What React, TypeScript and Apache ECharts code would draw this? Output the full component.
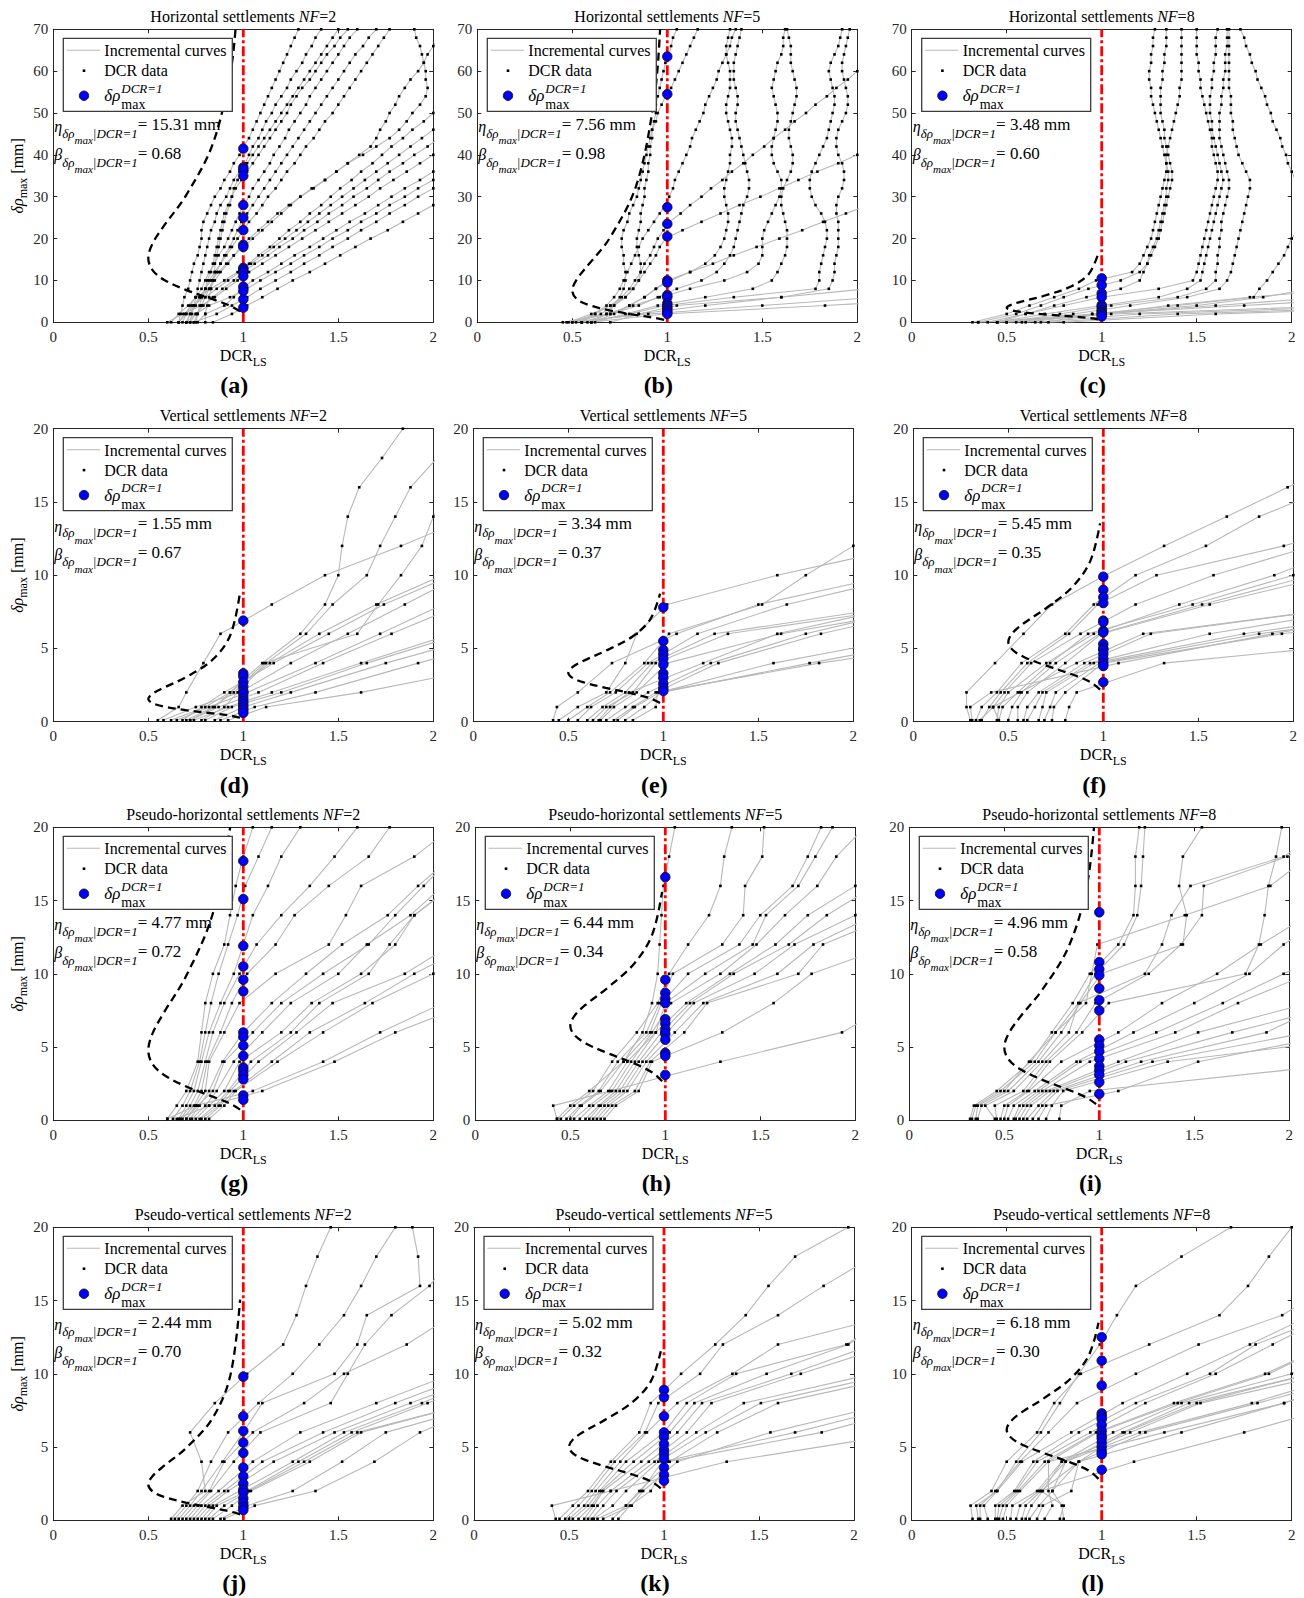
import React, { useEffect, useRef } from 'react';
import * as echarts from 'echarts';

const FONT = '"Liberation Serif", "Times New Roman", serif';

// y levels of the DCR data (mm)
const L70 = [0, 2, 4, 6, 8, 10, 12, 14, 16, 18, 20, 22, 24, 26, 28, 30, 32, 34, 36, 38, 40, 42, 44, 46, 48, 50, 52, 54, 56, 58, 60, 62, 64, 66, 68, 70];
const L20 = [0.1, 1, 2, 4, 6, 8, 10, 12, 14, 16, 18, 20, 22];

// ---------- (a) Horizontal NF=2 ----------
const A_CURVES = [
  [0.66,0.67,0.68,0.69,0.71,0.72,0.73,0.74,0.76,0.77,0.78,0.78,0.79,0.81,0.83,0.85,0.88,0.9,0.93,0.95,0.98,1.0,1.03,1.05,1.07,1.09,1.11,1.13,1.15,1.17,1.19,1.21,1.23,1.25,1.27,1.29],
  [0.72,0.73,0.74,0.75,0.76,0.77,0.78,0.79,0.8,0.81,0.82,0.83,0.85,0.86,0.88,0.91,0.93,0.95,0.98,1.01,1.03,1.05,1.08,1.1,1.12,1.15,1.17,1.2,1.23,1.25,1.28,1.31,1.33,1.36,1.38,1.41],
  [0.75,0.76,0.77,0.78,0.8,0.81,0.83,0.84,0.85,0.86,0.87,0.88,0.89,0.9,0.92,0.94,0.95,0.97,0.99,1.02,1.05,1.08,1.11,1.14,1.17,1.2,1.23,1.26,1.29,1.32,1.35,1.38,1.41,1.44,1.47,1.5],
  [0.8,0.8,0.81,0.82,0.83,0.84,0.85,0.85,0.86,0.87,0.88,0.89,0.9,0.91,0.93,0.94,0.96,0.99,1.02,1.05,1.08,1.11,1.14,1.17,1.2,1.23,1.25,1.28,1.31,1.35,1.38,1.41,1.44,1.48,1.51,1.55],
  [0.68,0.7,0.72,0.75,0.78,0.8,0.82,0.85,0.87,0.9,0.92,0.94,0.96,0.98,1.0,1.03,1.05,1.08,1.11,1.14,1.16,1.19,1.22,1.24,1.27,1.3,1.33,1.35,1.38,1.41,1.44,1.47,1.5,1.53,1.56,1.6],
  [0.74,0.76,0.78,0.8,0.82,0.84,0.86,0.88,0.9,0.93,0.95,0.97,0.99,1.02,1.05,1.08,1.11,1.14,1.17,1.2,1.23,1.26,1.29,1.32,1.35,1.38,1.41,1.44,1.47,1.5,1.53,1.56,1.59,1.63,1.66,1.7],
  [0.7,0.72,0.75,0.77,0.8,0.82,0.85,0.88,0.91,0.94,0.97,1.0,1.03,1.07,1.1,1.13,1.17,1.2,1.23,1.27,1.3,1.33,1.37,1.4,1.43,1.47,1.5,1.53,1.56,1.59,1.62,1.65,1.68,1.71,1.74,1.77],
  [0.66,0.7,0.74,0.78,0.82,0.85,0.88,0.92,0.95,0.99,1.03,1.08,1.13,1.18,1.24,1.3,1.36,1.43,1.49,1.55,1.63,1.7,1.77,1.82,1.86,1.89,1.93,1.96,1.97,1.96,1.96,1.95,1.94,1.93,1.91,1.9],
  [0.7,0.72,0.74,0.77,0.8,0.83,0.87,0.91,0.95,1.0,1.05,1.1,1.15,1.2,1.25,1.3,1.37,1.43,1.49,1.55,1.61,1.67,1.7,1.72,1.75,1.77,1.8,1.82,1.85,1.88,1.92,1.95,1.97,2.0,2.03],
  [0.62,0.66,0.71,0.75,0.83,0.9,0.97,1.03,1.08,1.14,1.19,1.24,1.3,1.35,1.41,1.46,1.51,1.57,1.62,1.68,1.73,1.78,1.84,1.89,1.95,2.0],
  [0.66,0.69,0.73,0.8,0.86,0.92,0.98,1.04,1.1,1.16,1.22,1.28,1.34,1.4,1.46,1.52,1.58,1.64,1.7,1.76,1.82,1.88,1.94,2.0],
  [0.72,0.75,0.79,0.84,0.89,0.95,1.0,1.06,1.13,1.19,1.26,1.32,1.39,1.45,1.52,1.58,1.65,1.71,1.77,1.84,1.9,1.97,2.03],
  [0.6,0.68,0.78,0.85,0.91,0.97,1.03,1.1,1.17,1.24,1.31,1.38,1.45,1.52,1.59,1.66,1.72,1.79,1.86,1.93,2.0],
  [0.76,0.8,0.9,0.95,0.99,1.05,1.13,1.2,1.27,1.35,1.42,1.49,1.56,1.64,1.71,1.78,1.85,1.93,2.0],
  [0.7,0.75,0.82,0.93,1.02,1.09,1.17,1.25,1.32,1.4,1.47,1.55,1.62,1.7,1.77,1.85,1.92,2.0],
  [0.74,0.86,0.94,1.02,1.09,1.17,1.25,1.32,1.4,1.47,1.55,1.62,1.7,1.77,1.85,1.92,2.0],
  [0.84,0.94,1.02,1.1,1.18,1.26,1.35,1.43,1.51,1.59,1.67,1.76,1.84,1.92,2.0],
];
const A_BLUE = [41.5, 37, 36.5, 35, 28, 25, 22, 18.5, 18, 13, 12.5, 12, 11, 8.5, 7.5, 5.5, 3.5];
const A_PDF = [[0.983,2.61],[0.932,3.93],[0.838,5.52],[0.697,7.76],[0.582,10.18],[0.522,12.48],[0.5,15.31],[0.522,18.77],[0.582,23.02],[0.697,30.22],[0.838,42.46],[0.932,59.65],[0.959,70]];

// ---------- (b) Horizontal NF=5 ----------
const B_CURVES = [
  [0.6,0.68,0.72,0.75,0.77,0.78,0.78,0.77,0.77,0.76,0.76,0.77,0.79,0.8,0.82,0.84,0.85,0.86,0.87,0.88,0.89,0.9,0.91,0.92,0.94,0.95,0.97,0.99,1.02,1.04,1.06,1.08,1.1,1.12,1.14,1.16],
  [0.5,0.62,0.7,0.78,0.82,0.85,0.86,0.86,0.85,0.84,0.84,0.85,0.86,0.86,0.87,0.88,0.88,0.89,0.9,0.9,0.91,0.91,0.92,0.92,0.93,0.94,0.94,0.95,0.96,0.97,0.98,0.99,1.01,1.02,1.03,1.05],
  [0.55,0.62,0.68,0.72,0.75,0.77,0.79,0.81,0.83,0.85,0.87,0.9,0.93,0.96,0.99,1.01,1.03,1.04,1.06,1.08,1.1,1.12,1.13,1.15,1.17,1.19,1.2,1.22,1.24,1.26,1.27,1.29,1.31,1.33,1.34,1.36],
  [0.48,0.6,0.7,0.76,0.8,0.83,0.86,0.88,0.91,0.93,0.95,0.98,1.01,1.07,1.12,1.18,1.23,1.29,1.34,1.4,1.45,1.51,1.56,1.62,1.67,1.73,1.78,1.84,1.89,1.95,2.0],
  [0.52,0.65,0.72,0.78,0.82,0.85,0.88,0.91,0.94,0.96,0.99,1.08,1.18,1.28,1.38,1.49,1.59,1.69,1.79,1.9,2.0],
  [0.45,0.7,0.8,0.88,0.94,1.0,1.12,1.24,1.35,1.47,1.59,1.71,1.82,1.94,2.06],
  [0.6,0.72,0.8,0.88,0.94,1.02,1.12,1.2,1.25,1.28,1.3,1.31,1.32,1.32,1.31,1.3,1.3,1.31,1.32,1.33,1.33,1.34,1.34,1.33,1.32,1.31,1.31,1.32,1.33,1.33,1.33,1.32,1.31,1.31,1.32,1.33],
  [0.55,0.7,0.85,0.95,1.05,1.18,1.26,1.3,1.33,1.35,1.36,1.37,1.38,1.39,1.4,1.42,1.43,1.43,1.42,1.41,1.4,1.39,1.38,1.37,1.36,1.36,1.37,1.37,1.36,1.35,1.35,1.35,1.36,1.37,1.38,1.39],
  [0.5,0.68,0.82,0.96,1.12,1.3,1.42,1.48,1.5,1.5,1.5,1.51,1.53,1.55,1.57,1.59,1.6,1.6,1.58,1.56,1.55,1.55,1.56,1.57,1.58,1.58,1.57,1.56,1.55,1.56,1.57,1.58,1.6,1.61,1.61,1.62],
  [0.62,0.78,0.95,1.2,1.45,1.55,1.58,1.6,1.62,1.63,1.63,1.63,1.62,1.61,1.6,1.6,1.61,1.63,1.65,1.66,1.66,1.65,1.64,1.64,1.65,1.66,1.67,1.68,1.68,1.67,1.66,1.65,1.65,1.65,1.64,1.63],
  [0.58,0.8,0.99,1.35,1.78,1.8,1.8,1.81,1.82,1.83,1.84,1.84,1.83,1.81,1.78,1.76,1.75,1.75,1.76,1.78,1.8,1.82,1.84,1.85,1.86,1.87,1.88,1.88,1.87,1.86,1.85,1.86,1.88,1.9,1.91,1.92],
  [0.7,0.85,1.05,1.6,1.85,1.87,1.88,1.88,1.89,1.9,1.9,1.9,1.9,1.89,1.89,1.9,1.92,1.93,1.93,1.92,1.9,1.89,1.89,1.9,1.92,1.94,1.95,1.95,1.94,1.93,1.92,1.92,1.93,1.94,1.95,1.96],
  [0.55,0.85,1.2,1.6,2.05],
  [0.47,0.9,1.5,2.1],
  [0.6,0.98,1.83,2.6],
];
const B_BLUE = [63.5, 54.5, 27.5, 23.5, 20.5, 10, 9.5, 6.5, 6, 4.5, 4, 3.5, 3, 2.5, 2];
const B_PDF = [[0.983,0.59],[0.932,1.07],[0.838,1.74],[0.697,2.84],[0.582,4.2],[0.522,5.63],[0.5,7.56],[0.522,10.14],[0.582,13.61],[0.697,20.14],[0.838,32.88],[0.932,53.67],[0.962,70]];

// ---------- (c) Horizontal NF=8 ----------
const C_CURVES = [
  [0.32,0.5,0.62,0.75,0.88,0.97,1.16,1.2,1.22,1.24,1.26,1.27,1.28,1.29,1.3,1.31,1.32,1.33,1.34,1.34,1.33,1.32,1.31,1.3,1.29,1.28,1.27,1.26,1.26,1.25,1.25,1.26,1.26,1.27,1.27,1.28],
  [0.35,0.55,0.68,0.8,0.93,1.1,1.2,1.24,1.26,1.28,1.3,1.31,1.32,1.33,1.34,1.35,1.36,1.37,1.37,1.36,1.35,1.34,1.33,1.33,1.32,1.31,1.31,1.31,1.31,1.32,1.32,1.33,1.33,1.34,1.34,1.34],
  [0.45,0.6,0.75,0.92,1.1,1.2,1.22,1.24,1.25,1.27,1.29,1.3,1.31,1.32,1.33,1.34,1.34,1.35,1.35,1.34,1.34,1.35,1.36,1.37,1.38,1.39,1.4,1.41,1.41,1.42,1.42,1.42,1.42,1.42,1.42,1.42],
  [0.4,0.6,0.8,1.0,1.3,1.48,1.5,1.51,1.52,1.53,1.54,1.55,1.56,1.57,1.58,1.59,1.6,1.61,1.61,1.6,1.59,1.58,1.58,1.57,1.56,1.55,1.54,1.53,1.52,1.52,1.51,1.51,1.5,1.5,1.5,1.5],
  [0.45,0.7,1.0,1.3,1.45,1.52,1.53,1.54,1.55,1.56,1.57,1.58,1.59,1.6,1.61,1.62,1.63,1.64,1.63,1.62,1.61,1.6,1.59,1.58,1.58,1.57,1.57,1.57,1.58,1.58,1.59,1.59,1.6,1.6,1.6,1.61],
  [0.5,0.78,1.05,1.4,1.55,1.6,1.6,1.61,1.61,1.62,1.62,1.63,1.63,1.64,1.65,1.66,1.67,1.67,1.66,1.65,1.64,1.63,1.62,1.62,1.62,1.62,1.63,1.63,1.64,1.64,1.65,1.65,1.65,1.66,1.66,1.66],
  [0.55,0.85,1.15,1.45,1.62,1.66,1.68,1.69,1.7,1.71,1.72,1.73,1.74,1.75,1.76,1.77,1.78,1.78,1.76,1.74,1.72,1.71,1.7,1.69,1.69,1.68,1.68,1.68,1.67,1.67,1.67,1.67,1.67,1.67,1.67,1.67],
  [0.6,0.95,1.4,1.8,1.83,1.87,1.9,1.93,1.96,1.98,2.0,2.03,2.06,2.08,2.08,2.06,2.04,2.02,2.0,1.98,1.97,1.95,1.94,1.92,1.9,1.89,1.87,1.86,1.84,1.82,1.81,1.79,1.78,1.76,1.75,1.73],
  [0.35,1.0,1.6,2.2],
  [0.45,0.95,1.75,2.5],
  [0.5,1.05,2.3],
  [0.65,1.2,2.5],
  [0.72,1.4,2.8],
  [0.8,1.6,3.0],
  [0.58,0.99,1.5,1.85,2.1],
  [0.68,1.0,1.35,1.78,2.3],
];
const C_BLUE = [10.5, 8.9, 6.9, 6.0, 4.1, 3.6, 2.9, 2.5, 2.1, 1.8, 1.4];
const C_PDF = [[0.983,0.73],[0.932,1.05],[0.838,1.41],[0.697,1.91],[0.582,2.43],[0.522,2.91],[0.5,3.48],[0.522,4.17],[0.582,4.99],[0.697,6.34],[0.838,8.56],[0.932,11.55],[0.983,16.56]];

// ---------- (d) Vertical NF=2 ----------
const D_CURVES = [
  [0.55,0.66,0.7,0.79,0.88,1.15,1.43,1.83,2.2],
  [0.72,0.85,0.93,1.1,1.3,1.43,1.5,1.52,1.55,1.61,1.73,1.84,1.95],
  [0.7,0.84,0.95,1.11,1.6,1.71,1.83,1.94,2.0,2.1],
  [0.78,0.9,0.97,1.12,1.33,1.47,1.65,1.72,1.8,1.88,2.02],
  [0.62,0.8,0.93,1.14,1.4,1.7,2.05],
  [0.68,0.78,0.9,1.16,1.45,1.74,2.1],
  [0.58,0.75,0.98,1.25,1.55,1.85,2.15],
  [0.65,0.82,1.02,1.38,1.72,2.05],
  [0.72,0.87,1.08,1.42,1.78,2.15],
  [0.74,0.92,1.15,1.62,2.1],
  [0.8,0.94,1.2,1.65,2.15],
  [0.85,1.0,1.25,1.75,2.3],
  [0.88,1.06,1.38,1.92,2.5],
  [0.92,1.12,1.62,2.4],
];
const D_BLUE = [6.9, 3.3, 3.1, 2.7, 2.4, 2.1, 1.9, 1.6, 1.4, 1.2, 1.0, 0.8, 0.6];
const D_PDF = [[0.983,0.27],[0.932,0.41],[0.838,0.57],[0.697,0.79],[0.582,1.04],[0.522,1.27],[0.5,1.55],[0.522,1.9],[0.582,2.32],[0.697,3.03],[0.838,4.23],[0.932,5.92],[0.983,8.85]];

// ---------- (e) Vertical NF=5 ----------
const E_CURVES = [
  [0.45,0.55,0.7,0.8,0.86,1.02,1.6,2.3],
  [0.5,0.6,0.72,0.9,1.03,1.52,1.75,2.0,2.25],
  [0.55,0.62,0.75,0.92,1.18,1.65,2.3],
  [0.6,0.68,0.8,0.94,1.27,2.3],
  [0.63,0.7,0.84,0.96,1.34,2.4],
  [0.67,0.74,0.86,1.02,1.62,2.5],
  [0.66,0.72,0.82,1.21,1.6,2.3],
  [0.7,0.8,0.92,1.25,1.75,2.4],
  [0.74,0.84,0.96,1.29,1.83,2.5],
  [0.76,0.85,0.98,1.58,2.4],
  [0.8,0.9,0.99,1.77,2.6],
  [0.84,0.96,0.97,1.82,2.9],
  [0.42,0.44,0.55,0.73,1.07,1.5,2.2],
];
const E_BLUE = [7.8, 5.5, 4.9, 4.6, 4.3, 3.9, 3.3, 3.0, 2.6, 2.3, 2.1];
const E_PDF = [[0.983,1.28],[0.932,1.59],[0.838,1.92],[0.697,2.31],[0.582,2.68],[0.522,2.99],[0.5,3.34],[0.522,3.73],[0.582,4.17],[0.697,4.84],[0.838,5.82],[0.932,7.0],[0.983,8.74]];

// ---------- (f) Vertical NF=8 ----------
const F_CURVES = [
  [0.3,0.28,0.28,0.43,0.58,0.73,1.01,1.32,1.65,1.97,2.3],
  [0.33,0.36,0.44,0.57,0.8,0.95,1.17,1.54,1.82,2.2],
  [0.36,0.4,0.46,0.6,0.82,0.97,1.28,1.95,2.5],
  [0.35,0.42,0.48,0.62,0.88,1.17,1.58,2.1],
  [0.44,0.45,0.5,0.7,0.95,1.4,1.9,2.3],
  [0.45,0.47,0.55,0.72,0.92,1.47,2.0],
  [0.5,0.52,0.57,0.75,0.98,1.52,2.1],
  [0.55,0.55,0.6,0.8,0.99,1.56,2.2],
  [0.45,0.42,0.56,0.86,1.21,2.4],
  [0.58,0.6,0.66,0.9,1.25,2.4],
  [0.6,0.64,0.68,0.93,1.56,2.5],
  [0.66,0.68,0.7,0.95,1.74,2.8],
  [0.69,0.72,0.75,0.98,1.82,3.0],
  [0.73,0.74,0.8,1.0,1.94,3.2],
  [0.8,0.82,0.86,1.32,2.9],
  [0.31,0.3,0.41,1.08,1.89,2.8],
];
const F_BLUE = [9.9, 9.0, 8.5, 8.1, 6.9, 6.8, 6.2, 6.1, 5.3, 5.0, 4.9, 4.6, 4.3, 4.0, 3.8, 2.7];
const F_PDF = [[0.983,2.19],[0.932,2.71],[0.838,3.22],[0.697,3.84],[0.582,4.42],[0.522,4.91],[0.5,5.45],[0.522,6.05],[0.582,6.72],[0.697,7.73],[0.838,9.21],[0.932,10.98],[0.983,13.54]];

// ---------- (g) Pseudo-horizontal NF=2 ----------
const G_CURVES = [
  [0.6,0.65,0.7,0.76,0.78,0.8,0.84,0.9,0.93,0.96,1.0,1.05,1.1],
  [0.63,0.68,0.72,0.77,0.8,0.83,0.87,0.92,0.97,1.01,1.08,1.15,1.2],
  [0.66,0.7,0.74,0.78,0.82,0.88,0.95,1.0,1.05,1.13,1.2,1.3,1.4],
  [0.67,0.72,0.76,0.8,0.84,0.9,0.98,1.07,1.2,1.35,1.48,1.6,1.7],
  [0.68,0.74,0.78,0.81,0.88,0.94,1.02,1.17,1.27,1.45,1.66,1.77,1.9],
  [0.7,0.75,0.8,0.82,0.9,0.98,1.17,1.45,1.54,1.62,1.9,2.1],
  [0.72,0.77,0.82,0.89,1.0,1.15,1.33,1.52,1.76,1.92,2.1],
  [0.7,0.76,0.84,0.9,1.05,1.2,1.42,1.66,1.8,1.95,2.1],
  [0.73,0.8,0.86,0.95,1.1,1.25,1.5,1.65,1.88,2.05],
  [0.75,0.82,0.9,0.98,1.2,1.36,1.62,1.8,1.9,2.1],
  [0.77,0.85,0.92,1.04,1.25,1.4,1.66,1.77,1.9,2.1],
  [0.78,0.87,0.93,1.08,1.28,1.47,1.85,2.1],
  [0.8,0.88,0.95,1.15,1.35,1.64,1.9,2.2],
  [0.82,0.9,0.96,1.18,1.42,1.68,2.0,2.3],
  [0.6,0.75,1.05,1.42,1.72,2.05],
  [0.65,0.82,1.1,1.48,1.8,2.2],
];
const G_BLUE = [17.7, 15.1, 11.9, 10.5, 9.6, 8.8, 6.0, 5.7, 5.1, 4.4, 3.6, 3.4, 3.1, 2.8, 1.7, 1.4];
const G_PDF = [[0.983,0.73],[0.932,1.13],[0.838,1.62],[0.697,2.32],[0.582,3.1],[0.522,3.84],[0.5,4.77],[0.522,5.92],[0.582,7.35],[0.697,9.8],[0.838,14.05],[0.931,20]];

// ---------- (h) Pseudo-horizontal NF=5 ----------
const H_CURVES = [
  [0.43,0.5,0.6,0.78,0.88,0.93,0.96,0.97,0.98,0.99,1.02,1.05,1.08],
  [0.45,0.52,0.62,0.72,0.85,0.96,1.02,1.12,1.23,1.29,1.31,1.35,1.4],
  [0.48,0.55,0.65,0.75,0.9,0.97,1.04,1.3,1.41,1.42,1.51,1.52,1.6],
  [0.5,0.56,0.66,0.78,0.92,0.98,1.12,1.39,1.5,1.67,1.75,1.82,1.9],
  [0.52,0.6,0.7,0.8,0.95,1.0,1.21,1.46,1.53,1.7,1.79,1.88,2.0],
  [0.55,0.62,0.72,0.82,0.93,1.03,1.29,1.48,1.63,1.8,1.9,2.05],
  [0.58,0.65,0.74,0.84,0.95,1.11,1.34,1.58,1.75,2.0,2.2],
  [0.6,0.66,0.76,0.86,0.98,1.13,1.36,1.65,1.85,2.1],
  [0.62,0.68,0.78,0.88,1.01,1.15,1.47,1.68,2.0,2.2],
  [0.64,0.7,0.8,0.9,1.05,1.2,1.59,1.78,2.1],
  [0.66,0.72,0.84,0.92,1.1,1.22,1.7,1.83,2.2],
  [0.68,0.74,0.86,0.93,1.3,1.57,1.77,2.2],
  [0.43,0.41,0.71,1.29,1.93,2.2],
];
const H_BLUE = [16.6, 9.6, 8.7, 8.3, 8.0, 6.9, 6.6, 6.2, 5.9, 5.5, 4.6, 4.4, 3.1];
const H_PDF = [[0.983,2.66],[0.932,3.26],[0.838,3.87],[0.697,4.58],[0.582,5.25],[0.522,5.82],[0.5,6.44],[0.522,7.13],[0.582,7.9],[0.697,9.05],[0.838,10.72],[0.932,12.71],[0.983,15.59]];

// ---------- (i) Pseudo-horizontal NF=8 ----------
const I_CURVES = [
  [0.35,0.36,0.5,0.63,0.77,0.93,0.96,0.99,1.45,1.9,2.1],
  [0.32,0.34,0.46,0.64,0.75,0.86,0.95,1.1,1.18,1.19,1.19,1.21,1.23],
  [0.33,0.35,0.48,0.66,0.77,0.89,0.98,1.13,1.2,1.22,1.23,1.24,1.26],
  [0.36,0.38,0.52,0.68,0.8,0.9,1.01,1.44,1.46,1.42,1.44,1.54,1.6],
  [0.45,0.4,0.55,0.7,0.84,0.89,1.24,1.33,1.38,1.48,1.97,2.2],
  [0.46,0.45,0.6,0.72,0.88,0.98,1.26,1.43,1.54,1.55,1.99,2.2],
  [0.48,0.5,0.62,0.74,0.91,1.05,1.77,1.84,1.87,1.89,1.93,1.96,2.0],
  [0.5,0.52,0.63,0.8,1.1,1.33,1.62,1.85,2.1],
  [0.52,0.55,0.66,0.88,1.18,1.5,1.79,1.97,2.2],
  [0.55,0.58,0.68,0.9,1.3,1.65,1.97,2.3],
  [0.56,0.6,0.7,0.95,1.4,1.73,2.1],
  [0.58,0.62,0.72,1.1,1.52,2.1],
  [0.6,0.64,0.74,1.14,1.7,2.3],
  [0.62,0.68,0.76,1.22,1.88,2.2],
  [0.65,0.7,0.78,1.28,2.1],
  [0.68,0.72,1.1,1.52,2.3],
  [0.72,0.75,0.81,1.36,2.6],
  [0.79,0.8,0.95,2.4],
];
const I_BLUE = [14.2, 10.8, 10.3, 9.9, 9.0, 8.2, 7.5, 5.5, 5.1, 4.7, 4.2, 3.7, 3.4, 3.1, 2.6, 1.8];
const I_PDF = [[0.983,1.1],[0.932,1.56],[0.838,2.08],[0.697,2.78],[0.582,3.5],[0.522,4.17],[0.5,4.96],[0.522,5.9],[0.582,7.03],[0.697,8.86],[0.838,11.84],[0.932,15.82],[0.972,20]];

// ---------- (j) Pseudo-vertical NF=2 ----------
const J_CURVES = [
  [0.62,0.68,0.8,0.78,0.72,0.85,1.02,1.21,1.28,1.33,1.39,1.46,1.52],
  [0.64,0.7,0.76,0.83,0.92,1.08,1.26,1.4,1.53,1.62,1.7,1.8,1.9],
  [0.66,0.72,0.78,0.89,1.0,1.1,1.48,1.6,1.65,1.93,1.92,1.89,1.86],
  [0.68,0.74,0.82,0.9,1.05,1.32,1.53,1.86,2.1],
  [0.7,0.76,0.83,0.95,1.09,1.46,1.55,1.64,1.78,1.98,2.1],
  [0.72,0.78,0.87,1.05,1.3,1.7,2.1],
  [0.74,0.8,0.9,1.1,1.42,1.8,2.2],
  [0.76,0.82,0.92,1.16,1.48,1.88,2.3],
  [0.78,0.84,0.98,1.26,1.53,1.94,2.3],
  [0.8,0.86,1.02,1.29,1.57,1.97,2.4],
  [0.82,0.9,1.03,1.32,1.6,2.2],
  [0.84,0.94,1.04,1.35,1.62,2.2],
  [0.88,1.02,1.26,1.52,1.75,2.3],
  [0.9,1.06,1.38,1.69,1.93,2.3],
];
const J_BLUE = [9.8, 7.1, 6.1, 5.3, 4.6, 3.6, 3.0, 2.5, 2.1, 1.9, 1.5, 1.2, 0.9, 0.7];
const J_PDF = [[0.983,0.4],[0.932,0.6],[0.838,0.85],[0.697,1.21],[0.582,1.6],[0.522,1.98],[0.5,2.44],[0.522,3.01],[0.582,3.71],[0.697,4.91],[0.838,6.97],[0.932,9.9],[0.983,15.06]];

// ---------- (k) Pseudo-vertical NF=5 ----------
const K_CURVES = [
  [0.45,0.52,0.6,0.72,0.87,0.93,1.09,1.27,1.43,1.55,1.69,1.97,2.2],
  [0.48,0.55,0.62,0.74,0.9,0.97,1.19,1.31,1.6,1.84,2.1],
  [0.5,0.58,0.64,0.77,0.91,1.07,1.36,1.6,2.2],
  [0.52,0.6,0.66,0.8,1.0,1.12,1.38,1.96,2.2],
  [0.55,0.62,0.67,0.84,1.03,1.16,1.54,1.97,2.2],
  [0.58,0.63,0.68,0.88,1.07,1.2,1.67,2.1],
  [0.6,0.65,0.72,0.92,1.12,1.25,1.72,2.2],
  [0.62,0.68,0.75,0.95,1.17,1.42,2.1],
  [0.63,0.73,0.8,0.97,1.22,1.51,2.2],
  [0.65,0.8,0.87,1.03,1.28,1.6,2.3],
  [0.68,0.83,0.89,1.07,1.56,2.2],
  [0.43,0.41,0.72,1.33,2.3],
  [0.73,0.8,0.88,0.99,1.69,2.3],
  [0.76,0.82,0.93,1.02,1.83,2.4],
];
const K_BLUE = [8.9, 8.4, 7.1, 6.0, 5.7, 5.2, 4.8, 4.5, 4.2, 3.6, 3.1, 2.7];
const K_PDF = [[0.983,2.18],[0.932,2.65],[0.838,3.11],[0.697,3.65],[0.582,4.14],[0.522,4.56],[0.5,5.02],[0.522,5.53],[0.582,6.08],[0.697,6.91],[0.838,8.11],[0.932,9.52],[0.983,11.54]];

// ---------- (l) Pseudo-vertical NF=8 ----------
const L_CURVES = [
  [0.35,0.34,0.45,0.55,0.68,0.78,0.88,0.99,1.08,1.18,1.42,1.68,1.9],
  [0.32,0.31,0.42,0.5,0.66,0.75,0.89,1.25,1.62,1.77,1.88,2.0,2.1],
  [0.36,0.36,0.44,0.57,0.72,0.87,1.18,1.51,1.95,2.2],
  [0.4,0.38,0.45,0.58,0.84,1.11,1.45,1.78,2.1],
  [0.44,0.44,0.54,0.64,0.88,1.18,1.57,1.81,2.2],
  [0.45,0.46,0.55,0.66,0.94,1.23,1.6,1.9,2.2],
  [0.46,0.48,0.56,0.7,0.97,1.38,1.86,2.2],
  [0.48,0.5,0.57,0.72,0.98,1.4,1.88,2.2],
  [0.52,0.53,0.66,0.79,1.06,1.42,2.0,2.3],
  [0.55,0.57,0.67,0.81,1.11,1.46,2.1],
  [0.58,0.6,0.68,0.88,1.12,1.5,2.1],
  [0.6,0.63,0.69,0.79,1.15,1.52,2.2],
  [0.62,0.67,0.74,0.81,1.2,1.79,2.3],
  [0.66,0.69,0.84,0.88,1.23,1.82,2.4],
  [0.7,0.74,0.72,0.72,1.33,1.96,2.4],
  [0.78,0.8,0.68,1.17,1.75,2.3],
  [0.8,0.79,0.74,0.88,1.42,1.96,2.4],
];
const L_BLUE = [12.5, 10.9, 9.2, 7.3, 7.1, 6.9, 6.5, 6.1, 5.8, 5.6, 5.3, 5.0, 4.7, 4.5, 3.45];
const L_PDF = [[0.983,2.83],[0.932,3.39],[0.838,3.94],[0.697,4.58],[0.582,5.16],[0.522,5.65],[0.5,6.18],[0.522,6.76],[0.582,7.4],[0.697,8.34],[0.838,9.69],[0.932,11.26],[0.983,13.48]];

const PANELS = [
  { id: 'a', kind: 'Horizontal settlements', nf: '2', ymax: 70, step: 10, levels: L70, curves: A_CURVES, blue: A_BLUE, pdf: A_PDF, eta: '15.31', beta: '0.68' },
  { id: 'b', kind: 'Horizontal settlements', nf: '5', ymax: 70, step: 10, levels: L70, curves: B_CURVES, blue: B_BLUE, pdf: B_PDF, eta: '7.56', beta: '0.98' },
  { id: 'c', kind: 'Horizontal settlements', nf: '8', ymax: 70, step: 10, levels: L70, curves: C_CURVES, blue: C_BLUE, pdf: C_PDF, eta: '3.48', beta: '0.60' },
  { id: 'd', kind: 'Vertical settlements', nf: '2', ymax: 20, step: 5, levels: L20, curves: D_CURVES, blue: D_BLUE, pdf: D_PDF, eta: '1.55', beta: '0.67' },
  { id: 'e', kind: 'Vertical settlements', nf: '5', ymax: 20, step: 5, levels: L20, curves: E_CURVES, blue: E_BLUE, pdf: E_PDF, eta: '3.34', beta: '0.37' },
  { id: 'f', kind: 'Vertical settlements', nf: '8', ymax: 20, step: 5, levels: L20, curves: F_CURVES, blue: F_BLUE, pdf: F_PDF, eta: '5.45', beta: '0.35' },
  { id: 'g', kind: 'Pseudo-horizontal settlements', nf: '2', ymax: 20, step: 5, levels: L20, curves: G_CURVES, blue: G_BLUE, pdf: G_PDF, eta: '4.77', beta: '0.72' },
  { id: 'h', kind: 'Pseudo-horizontal settlements', nf: '5', ymax: 20, step: 5, levels: L20, curves: H_CURVES, blue: H_BLUE, pdf: H_PDF, eta: '6.44', beta: '0.34' },
  { id: 'i', kind: 'Pseudo-horizontal settlements', nf: '8', ymax: 20, step: 5, levels: L20, curves: I_CURVES, blue: I_BLUE, pdf: I_PDF, eta: '4.96', beta: '0.58' },
  { id: 'j', kind: 'Pseudo-vertical settlements', nf: '2', ymax: 20, step: 5, levels: L20, curves: J_CURVES, blue: J_BLUE, pdf: J_PDF, eta: '2.44', beta: '0.70' },
  { id: 'k', kind: 'Pseudo-vertical settlements', nf: '5', ymax: 20, step: 5, levels: L20, curves: K_CURVES, blue: K_BLUE, pdf: K_PDF, eta: '5.02', beta: '0.32' },
  { id: 'l', kind: 'Pseudo-vertical settlements', nf: '8', ymax: 20, step: 5, levels: L20, curves: L_CURVES, blue: L_BLUE, pdf: L_PDF, eta: '6.18', beta: '0.30' },
];

// layout (px)
const ROW_TOP = [29.3, 428.7, 827.3, 1227.3];
const COL_LEFT = [[53.3, 477.3, 911.7], [53.3, 473.3, 913.3], [53.3, 475.3, 909.3], [53.3, 474, 911.7]];
const PW = 380;
const PH = 293;
const AX = '#262626';

function txt(x: number, y: number, text: string, rich: any, align = 'left', extra: any = {}) {
  return {
    type: 'text', x, y, z: 100, silent: true, ...extra,
    style: { text, rich, align, textAlign: align, verticalAlign: 'middle', textVerticalAlign: 'middle', fill: '#000', fontFamily: FONT, fontSize: 16 },
  };
}
function tok(fontSize: number, italic = false, padding: number[] | null = null, bold = false) {
  const o: any = { fontFamily: FONT, fontSize, fill: '#000', fontStyle: italic ? 'italic' : 'normal', fontWeight: bold ? 'bold' : 'normal' };
  if (padding) o.padding = padding;
  return o;
}

function buildOption() {
  const grid: any[] = [];
  const xAxis: any[] = [];
  const yAxis: any[] = [];
  const series: any[] = [];
  const els: any[] = [];
  const tick = { show: true, inside: true, length: 4, lineStyle: { color: AX, width: 1 } };
  const line = { show: true, onZero: false, lineStyle: { color: AX, width: 1 } };

  PANELS.forEach((p, k) => {
    const r = Math.floor(k / 3);
    const c = k % 3;
    const left = COL_LEFT[r][c];
    const top = ROW_TOP[r];
    grid.push({ left, top, width: PW, height: PH, containLabel: false, outerBoundsMode: 'none', show: false });
    xAxis.push({ gridIndex: k, type: 'value', min: 0, max: 2, interval: 0.5, position: 'bottom', axisLine: line, axisTick: tick, splitLine: { show: false },
      axisLabel: { fontFamily: FONT, fontSize: 15, color: AX, margin: 7 } });
    xAxis.push({ gridIndex: k, type: 'value', min: 0, max: 2, interval: 0.5, position: 'top', axisLine: line, axisTick: tick, splitLine: { show: false }, axisLabel: { show: false } });
    yAxis.push({ gridIndex: k, type: 'value', min: 0, max: p.ymax, interval: p.step, position: 'left', axisLine: line, axisTick: tick, splitLine: { show: false },
      axisLabel: { fontFamily: FONT, fontSize: 15, color: AX, margin: 5 } });
    yAxis.push({ gridIndex: k, type: 'value', min: 0, max: p.ymax, interval: p.step, position: 'right', axisLine: line, axisTick: tick, splitLine: { show: false }, axisLabel: { show: false } });

    const xi = 2 * k;
    p.curves.forEach((xs) => {
      series.push({
        type: 'line', xAxisIndex: xi, yAxisIndex: xi, clip: true, silent: true, z: 2,
        data: xs.map((x, i) => [x, p.levels[i]]),
        symbol: 'rect', symbolSize: 2.6, showSymbol: true, showAllSymbol: true,
        itemStyle: { color: '#000' }, lineStyle: { color: '#b8b8b8', width: 1.1 },
        emphasis: { disabled: true },
      });
    });
    series.push({
      type: 'line', xAxisIndex: xi, yAxisIndex: xi, clip: true, silent: true, z: 3,
      data: p.pdf, smooth: 0.35, symbol: 'none',
      lineStyle: { color: '#000', width: 2.3, type: [8, 5] }, emphasis: { disabled: true },
    });
    series.push({
      type: 'line', xAxisIndex: xi, yAxisIndex: xi, clip: true, silent: true, z: 4,
      data: [[1, 0], [1, p.ymax]], symbol: 'none',
      lineStyle: { color: '#ff0000', width: 2.8, type: [10, 3, 3, 3] }, emphasis: { disabled: true },
    });
    series.push({
      type: 'scatter', xAxisIndex: xi, yAxisIndex: xi, silent: true, z: 5,
      data: p.blue.map((y) => [1, y]), symbol: 'circle', symbolSize: 9.5,
      itemStyle: { color: '#0000ff', borderColor: '#111', borderWidth: 0.9, opacity: 1 },
    });

    const cx = left + PW / 2;
    // title
    els.push(txt(cx, top - 13, `{n|${p.kind} }{i|NF}{n|=${p.nf}}`, { n: tok(16), i: tok(16, true) }, 'center'));
    // x label
    els.push(txt(cx, top + PH + 33, '{a|DCR}{b|LS}', { a: tok(16), b: tok(12, false, [13, 0, 0, 0]) }, 'center'));
    // y label
    if (c === 0) {
      els.push(txt(17, top + PH / 2, '{a|δρ}{b|max}{c| [mm]}', { a: tok(16, true), b: tok(12, false, [12, 0, 0, 0]), c: tok(16) }, 'center', { rotation: Math.PI / 2 }));
    }
    // panel label
    els.push(txt(cx - 9, top + PH + 63, `{a|(${p.id})}`, { a: tok(24, false, null, true) }, 'center'));
    // eta / beta annotations
    const sub = { s: tok(13, true, [18, 0, 0, 0]), m: tok(11, true, [32, 0, 0, 0]), v: tok(17) };
    els.push(txt(left + 1, top + 95, `{e|η}{s|δρ}{m|max}{s||DCR=1}{v|= ${p.eta} mm}`, { e: tok(16, true, [5, 0, 0, 0]), ...sub }));
    els.push(txt(left + 1, top + 124, `{e|β}{s|δρ}{m|max}{s||DCR=1}{v|= ${p.beta}}`, { e: tok(16, true, [3, 0, 0, 0]), ...sub }));
    // legend
    const lx = left + 10;
    const ly = top + 9;
    els.push({ type: 'rect', z: 99, silent: true, shape: { x: lx, y: ly, width: 169, height: 73 }, style: { fill: '#fff', stroke: '#3c3c3c', lineWidth: 1.3 } });
    els.push({ type: 'line', z: 100, silent: true, shape: { x1: lx + 3.4, y1: ly + 12, x2: lx + 36.7, y2: ly + 12 }, style: { stroke: '#b8b8b8', lineWidth: 1.1 } });
    els.push(txt(lx + 41, ly + 12.4, '{a|Incremental curves}', { a: tok(16) }));
    els.push({ type: 'rect', z: 100, silent: true, shape: { x: lx + 19.4, y: ly + 31.1, width: 2.6, height: 2.6 }, style: { fill: '#000' } });
    els.push(txt(lx + 41, ly + 32.4, '{a|DCR data}', { a: tok(16) }));
    els.push({ type: 'circle', z: 100, silent: true, shape: { cx: lx + 20.7, cy: ly + 57.4, r: 4.7 }, style: { fill: '#0000ff', stroke: '#111', lineWidth: 0.9 } });
    els.push(txt(lx + 41, ly + 57.4, '{a|δρ}', { a: tok(17, true) }));
    els.push(txt(lx + 58, ly + 50, '{a|DCR=1}', { a: tok(13, true) }));
    els.push(txt(lx + 58, ly + 66.5, '{a|max}', { a: tok(14) }));
  });

  return {
    animation: false,
    backgroundColor: '#ffffff',
    grid, xAxis, yAxis, series,
    graphic: { elements: els },
  };
}

export default function App() {
  const ref = useRef<HTMLDivElement | null>(null);
  useEffect(() => {
    if (!ref.current) return;
    const chart = echarts.init(ref.current, null, { renderer: 'svg' });
    chart.setOption(buildOption() as any);
    return () => chart.dispose();
  }, []);
  return <div ref={ref} style={{ position: 'absolute', left: 0, top: 0, width: 1304, height: 1598, background: '#fff' }} />;
}
